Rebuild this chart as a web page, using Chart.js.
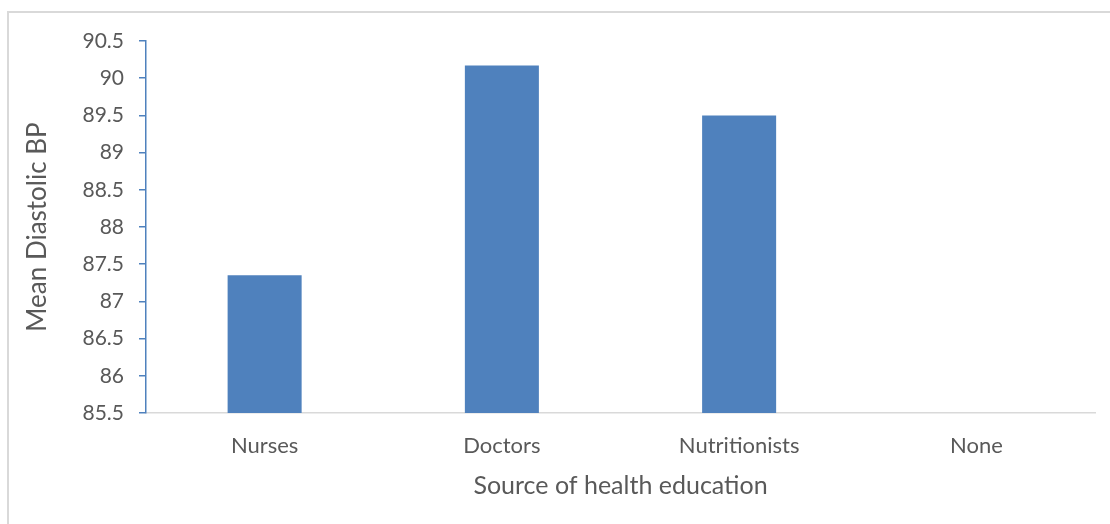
<!DOCTYPE html>
<html>
<head>
<meta charset="utf-8">
<script src="https://cdn.jsdelivr.net/npm/chart.js@4/dist/chart.umd.min.js"></script>
<style>
  html, body { margin: 0; padding: 0; background: #fff; }
  #wrap { position: relative; width: 1110px; height: 524px; }
</style>
</head>
<body>
<div id="wrap"><canvas id="chart"></canvas></div>
<script>
const categories = ['Nurses', 'Doctors', 'Nutritionists', 'None'];
const meanDiastolic = [87.35, 90.17, 89.5, null];
const yMin = 85.5;
const yMax = 90.5;
const yStep = 0.5;

const textColor = '#595959';
const barColor = '#4F81BD';
const fontFamily = "Lato, 'Open Sans', sans-serif";

// light frame of the original chart box (only top and left edge visible)
const frame = {
  id: 'frame',
  beforeDraw(chart) {
    const ctx = chart.ctx;
    ctx.save();
    ctx.strokeStyle = '#D9D9D9';
    ctx.lineWidth = 2;
    ctx.beginPath();
    ctx.moveTo(8, 600);
    ctx.lineTo(8, 12);
    ctx.lineTo(1200, 12);
    ctx.stroke();
    ctx.restore();
  }
};

Chart.defaults.font.family = fontFamily;
Chart.defaults.color = textColor;

new Chart(document.getElementById('chart'), {
  type: 'bar',
  data: {
    labels: categories,
    datasets: [{
      label: 'Mean Diastolic BP',
      data: meanDiastolic,
      backgroundColor: barColor,
      categoryPercentage: 1,
      barPercentage: 0.312
    }]
  },
  options: {
    responsive: true,
    maintainAspectRatio: false,
    animation: false,
    layout: { padding: { top: 41, right: 15, bottom: 0, left: 0 } },
    plugins: {
      legend: { display: false },
      tooltip: { enabled: false }
    },
    scales: {
      x: {
        grid: { display: false, drawTicks: false },
        border: { color: '#D9D9D9', width: 1.5 },
        ticks: { color: textColor, font: { size: 22 }, padding: 20, maxRotation: 0 },
        title: {
          display: true,
          text: 'Source of health education',
          color: textColor,
          font: { size: 25 },
          padding: { top: 0, bottom: 23 }
        },
        afterFit(scale) { scale.height = 111; }
      },
      y: {
        min: yMin,
        max: yMax,
        grid: { display: true, drawOnChartArea: false, drawTicks: true, tickLength: 7, color: barColor, lineWidth: 1.5 },
        border: { color: barColor, width: 1.5 },
        ticks: {
          stepSize: yStep,
          color: textColor,
          font: { size: 21 },
          padding: 15,
          callback: (value) => String(Number(value.toFixed(1)))
        },
        title: {
          display: true,
          text: 'Mean Diastolic BP',
          color: textColor,
          font: { size: 26 },
          padding: { top: 22, bottom: 0 }
        },
        afterFit(scale) { scale.width = 146; }
      }
    }
  },
  plugins: [frame]
});
</script>
</body>
</html>
